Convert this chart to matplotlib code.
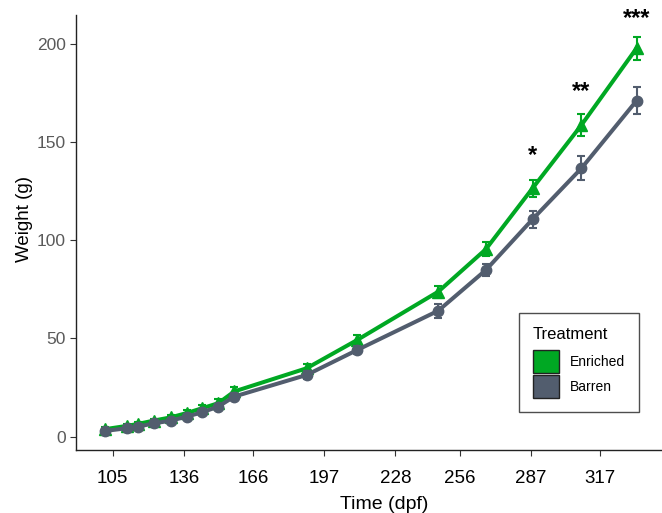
import numpy as np
import matplotlib
matplotlib.use("Agg")
import matplotlib.pyplot as plt
from matplotlib.patches import Patch

plt.rcParams['font.family'] = ['Liberation Sans', 'DejaVu Sans']

# sampling times (dpf)
days = [101.6, 111.3, 116.1, 123, 130.2, 137.2, 144, 150.9, 157.9,
        189.4, 211.4, 246.7, 267.4, 287.7, 309, 333]

enriched_mean = [3.8, 5.5, 6.5, 8.2, 9.8, 12.0, 14.5, 17.0, 23.0,
                 34.8, 49.2, 73.8, 95.4, 126.4, 158.6, 197.7]
enriched_se = [1.0, 1.0, 1.0, 1.0, 1.2, 1.5, 1.5, 2.0, 2.5,
               2.0, 2.5, 3.0, 3.5, 4.2, 5.7, 5.9]

barren_mean = [2.9, 4.3, 5.1, 6.8, 8.1, 10.2, 12.4, 15.3, 20.4,
               31.4, 44.1, 64.1, 84.8, 110.6, 136.6, 171.0]
barren_se = [1.0, 1.0, 1.0, 1.0, 1.0, 1.2, 1.2, 1.5, 2.0,
             2.0, 2.0, 3.5, 3.0, 4.2, 6.0, 7.0]

x_breaks = [105, 136, 166, 197, 228, 256, 287, 317]
y_breaks = [0, 50, 100, 150, 200]

# significance stars
sig_days = [287.7, 309, 333]
sig_heights = [143.0, 175.5, 212.6]
sig_labels = ['*', '**', '***']

green = '#00A823'
grey = '#525D6E'

fig = plt.figure(figsize=(6.62, 5.13), dpi=100)
ax = fig.add_axes([0.1148, 0.1228, 0.885, 0.848])

ax.errorbar(days, barren_mean, yerr=barren_se, color=grey, lw=2.9,
            marker='o', ms=7.5, capsize=3, elinewidth=1.5, capthick=1.5, zorder=3)
ax.errorbar(days, enriched_mean, yerr=enriched_se, color=green, lw=2.9,
            marker='^', ms=8.5, capsize=3, elinewidth=1.5, capthick=1.5, zorder=2)

for d, h, lab in zip(sig_days, sig_heights, sig_labels):
    ax.text(d, h, lab, ha='center', va='center', fontsize=17, fontweight='bold',
            clip_on=False)

ax.set_xlim(89, 344)
ax.set_ylim(-6.8, 214.6)
ax.set_xticks(x_breaks)
ax.set_yticks(y_breaks)
ax.tick_params(axis='x', labelsize=13.5, labelcolor='black', color='#333333',
               length=4, pad=10.5)
ax.tick_params(axis='y', labelsize=12.5, labelcolor='#5a5a5a', color='#333333', length=4)
for s in ['top', 'right']:
    ax.spines[s].set_visible(False)
for s in ['left', 'bottom']:
    ax.spines[s].set_color('#222222')
    ax.spines[s].set_linewidth(1.0)

ax.set_xlabel('Time (dpf)', fontsize=14)
ax.set_ylabel('Weight (g)', fontsize=13.5)
ax.xaxis.set_label_coords(0.5256, -0.105)
ax.yaxis.set_label_coords(-0.0734, 0.531)

handles = [Patch(facecolor=green, edgecolor='#222222', lw=1, label='Enriched'),
           Patch(facecolor=grey, edgecolor='#222222', lw=1, label='Barren')]
leg = ax.legend(handles=handles, title='Treatment', loc='upper left',
                bbox_to_anchor=(519 / 662, 1 - 313 / 513), bbox_transform=fig.transFigure,
                fontsize=10, title_fontsize=12, frameon=True, fancybox=False,
                handlelength=1.85, handleheight=2.2, labelspacing=0.1,
                handletextpad=0.8, borderpad=1.0, borderaxespad=0)
leg._legend_box.align = 'left'
leg._legend_box.sep = 6  # gap between title and keys
leg.get_frame().set_edgecolor('#222222')
leg.get_frame().set_linewidth(1.0)

fig.savefig('out.png', dpi=100)
